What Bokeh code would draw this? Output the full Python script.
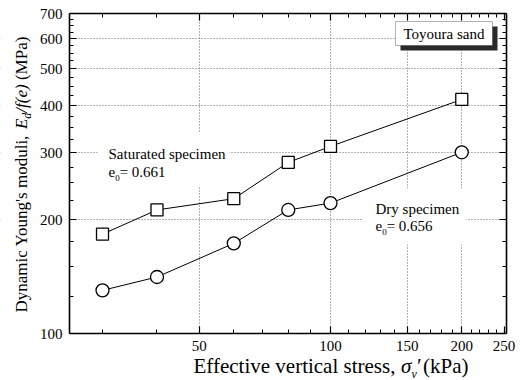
import math
from bokeh.plotting import figure
from bokeh.models import (FixedTicker, LogAxis, Label, BoxAnnotation, PrintfTickFormatter,
                          CustomJSTickFormatter)
from bokeh.embed import file_html
from bokeh.resources import INLINE

# ---------------- data ----------------
stress_kpa = [30, 40, 60, 80, 100, 200]
saturated_E = [183, 212, 227, 283, 312, 415]
dry_E = [130, 141, 173, 212, 221, 301]

x_major = [50, 100, 150, 200, 250]
x_minor = [30, 40, 60, 70, 80, 90, 110, 120, 130, 140, 160, 170, 180, 190,
           210, 220, 230, 240]
y_major = [100, 200, 300, 400, 500, 600, 700]
y_minor = [125, 150, 175, 225, 250, 275, 325, 350, 375, 425, 450, 475,
           525, 550, 575, 625, 650, 675]
x_grid = [50, 100, 150, 200]
y_grid = [200, 300, 400, 500, 600]

FONT = "'Liberation Serif', 'Times New Roman', serif"
XMIN, XMAX = 25.2, 253.3
YMIN, YMAX = 100, 700
W, H = 521, 380
FL, FR, FT, FB = 69, 506, 13, 333   # plot box in canvas pixels
BASE_K = 0.35                        # baseline correction (fraction of font size)


def px2x(px):
    lo, hi = math.log10(XMIN), math.log10(XMAX)
    return 10 ** (lo + (px - FL) / (FR - FL) * (hi - lo))


def px2y(py):
    lo, hi = math.log10(YMIN), math.log10(YMAX)
    return 10 ** (lo + (FB - py) / (FB - FT) * (hi - lo))


REG = {' ': .25, "'": .18, '(': .333, ')': .333, ',': .25, '/': .278, '=': .564,
       '.': .25, 'a': .444, 'b': .5, 'c': .444, 'd': .5, 'e': .444, 'f': .333,
       'g': .5, 'h': .5, 'i': .278, 'j': .278, 'k': .5, 'l': .278, 'm': .778,
       'n': .5, 'o': .5, 'p': .5, 'q': .5, 'r': .333, 's': .389, 't': .278,
       'u': .5, 'v': .5, 'w': .722, 'x': .5, 'y': .5, 'z': .444, 'D': .722,
       'E': .611, 'M': .889, 'P': .556, 'S': .556, 'T': .611, 'Y': .722}
ITA = {'E': .611, 'd': .5, 'f': .278, 'e': .444, '(': .333, ')': .333,
       '/': .278, 'v': .444, "'": .214, 'σ': .55}


def text_width(s, size, italic=False):
    t = ITA if italic else REG
    return sum(t.get(c, REG.get(c, 0.5)) for c in s) * size


def run(p, pieces, x0, y0, vertical=False):
    pos = 0.0
    for piece in pieces:
        text, italic, size, shift = piece[:4]
        adv = piece[4] if len(piece) > 4 else 1.0
        corr = BASE_K * size
        if vertical:
            px, py, ang = x0 + shift - corr, y0 - pos, math.pi / 2
        else:
            px, py, ang = x0 + pos, y0 + shift - corr, 0.0
        p.add_layout(Label(x=px2x(px), y=px2y(py), text=text, angle=ang,
                           text_font=FONT, text_font_size=f"{size}px",
                           text_font_style="italic" if italic else "normal",
                           text_align="left", text_baseline="alphabetic",
                           text_color="black"))
        pos += text_width(text, size, italic) * adv


# the frame spans the whole canvas; axes are pinned to the plot box edges
p = figure(width=W, height=H, x_axis_type="log", y_axis_type="log",
           x_range=(px2x(0), px2x(W)), y_range=(px2y(H), px2y(0)),
           output_backend="svg", toolbar_location=None,
           min_border_left=0, min_border_right=0, min_border_top=0, min_border_bottom=0,
           background_fill_color="white", border_fill_color="white")
p.outline_line_color = None

p.xgrid.ticker = FixedTicker(ticks=x_grid)
p.ygrid.ticker = FixedTicker(ticks=y_grid)
p.grid.grid_line_color = "#666666"
p.grid.grid_line_dash = "1 2"
p.grid.grid_line_width = 1
p.grid.level = "image"

# white masks: outside the plot box, and behind the in-plot annotations
masks = [dict(right=XMIN), dict(left=XMAX), dict(bottom=YMAX), dict(top=YMIN),
         dict(left=px2x(97), right=px2x(229), top=px2y(132), bottom=px2y(186)),
         dict(left=px2x(362), right=px2x(466), top=px2y(188), bottom=px2y(244))]
for m in masks:
    p.add_layout(BoxAnnotation(fill_color="white", fill_alpha=1, line_color=None,
                               level="underlay", **m))


def style_axis(ax, ticks, minors, loc, bounds, labels=True):
    ax.ticker = FixedTicker(ticks=ticks, minor_ticks=minors)
    ax.fixed_location = loc
    ax.bounds = bounds
    ax.major_tick_in = 7
    ax.major_tick_out = 0
    ax.minor_tick_in = 4
    ax.minor_tick_out = 0
    ax.axis_line_width = 1.6
    ax.axis_line_color = "black"
    ax.major_tick_line_width = 1.2
    ax.minor_tick_line_width = 1
    if labels:
        ax.formatter = PrintfTickFormatter(format="%d")
        ax.major_label_text_font = FONT
        ax.major_label_text_font_size = "15px"
        ax.major_label_text_color = "black"
        ax.major_label_standoff = 7
    else:
        ax.formatter = CustomJSTickFormatter(code="return ''")
        ax.major_label_standoff = 0


style_axis(p.xaxis[0], x_major, x_minor, YMIN, (XMIN, XMAX))
style_axis(p.yaxis[0], y_major, y_minor, XMIN, (YMIN, YMAX))
top_ax = LogAxis()
style_axis(top_ax, x_major, x_minor, YMAX, (XMIN, XMAX), labels=False)
p.add_layout(top_ax, "above")
right_ax = LogAxis()
style_axis(right_ax, y_major, y_minor, XMAX, (YMIN, YMAX), labels=False)
p.add_layout(right_ax, "right")

p.line(stress_kpa, saturated_E, line_color="black", line_width=1)
p.line(stress_kpa, dry_E, line_color="black", line_width=1)
p.scatter(stress_kpa, saturated_E, marker="square", size=12, fill_color="white",
          line_color="black", line_width=1.3)
p.scatter(stress_kpa, dry_E, marker="circle", size=13, fill_color="white",
          line_color="black", line_width=1.3)

# Toyoura sand box with shadow
p.add_layout(BoxAnnotation(left=px2x(400), right=px2x(497), top=px2y(26), bottom=px2y(50),
                           fill_color="#2a2a2a", fill_alpha=1, line_color=None))
p.add_layout(BoxAnnotation(left=px2x(395), right=px2x(492), top=px2y(21), bottom=px2y(45),
                           fill_color="white", fill_alpha=1, line_color="black",
                           line_width=1))
p.add_layout(Label(x=px2x(443.5), y=px2y(39 - BASE_K * 15), text="Toyoura sand",
                   text_font=FONT, text_font_size="15px", text_align="center",
                   text_baseline="alphabetic", text_color="black"))

# in-plot annotations
run(p, [("Saturated specimen", False, 15, 0)], 108, 159)
run(p, [("e", False, 15, 0, 1.0), ("0", False, 9, 4, 1.0), ("= 0.661", False, 15, 0)], 108, 177)
run(p, [("Dry specimen", False, 15, 0)], 375, 214)
run(p, [("e", False, 15, 0, 1.0), ("0", False, 9, 4, 1.0), ("= 0.656", False, 15, 0)], 375, 231)

# axis titles
run(p, [("Effective vertical stress, ", False, 21, 0), ("σ", True, 21, 0, 0.9),
        ("v", True, 12, 5, 0.8), ("'", True, 21, 0, 1.6), (" (kPa)", False, 21, 0)],
    193, 373)
run(p, [("Dynamic Young's moduli, ", False, 17, 0), ("E", True, 17, 0),
        ("d", True, 12, 4), ("/f(e)", True, 17, 0, 1.15), (" (MPa)", False, 17, 0)],
    27, 312, vertical=True)

open("out.html", "w").write(file_html(p, INLINE))
